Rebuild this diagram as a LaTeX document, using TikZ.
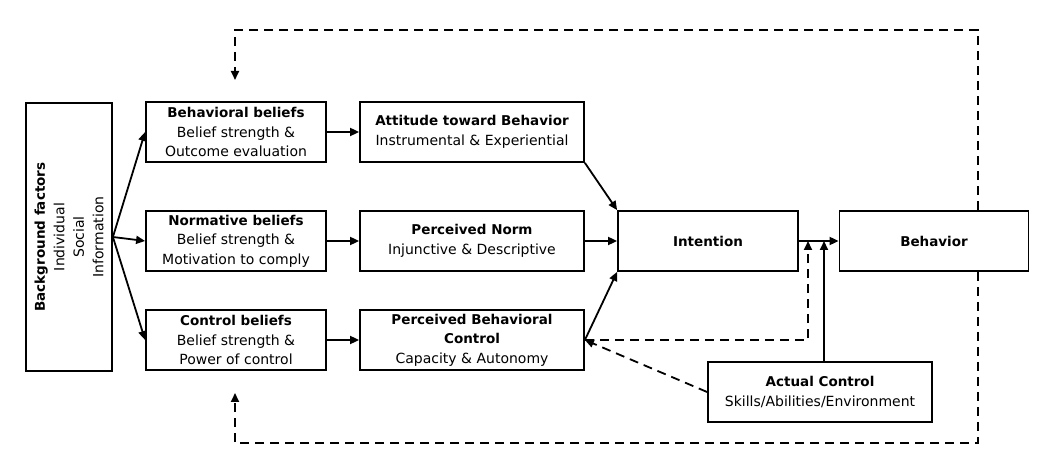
\documentclass[tikz,border=0pt]{standalone}
\usepackage{fontspec}
\setmainfont{DejaVu Sans}
\usepackage{tikz}
\usetikzlibrary{positioning, arrows.meta, calc}

\newcommand{\hd}[1]{{\fontsize{13.5}{19.5}\selectfont\bfseries #1}}

\tikzset{
  box/.style={draw, line width=1.8pt, align=center, inner sep=2pt,
              minimum height=60pt, font=\fontsize{14}{19.5}\selectfont},
  nbox/.style={box, minimum width=180pt},
  wbox/.style={box, minimum width=224pt},
  arr/.style={line width=1.8pt, -{Triangle[length=9pt,width=8pt]}},
  dasharr/.style={arr, dash pattern=on 9pt off 6pt},
}

\begin{document}
\begin{tikzpicture}[x=1pt, y=1pt]
  \useasboundingbox (0,0) rectangle (1043,465);

  % background factors, turned on its side
  \node[box, rotate=90, minimum width=268pt, minimum height=86pt] (bg) at (69,228)
    {\hd{Background factors}\\Individual\\Social\\Information};

  % beliefs
  \node[nbox] (behbel) at (236,333) {\hd{Behavioral beliefs}\\Belief strength \&\\Outcome evaluation};
  \node[nbox] (normbel) at (236,224) {\hd{Normative beliefs}\\Belief strength \&\\Motivation to comply};
  \node[nbox] (ctrlbel) at (236,125) {\hd{Control beliefs}\\Belief strength \&\\Power of control};

  % attitude, norm, control
  \node[wbox] (att) at (472,333) {\hd{Attitude toward Behavior}\\Instrumental \& Experiential};
  \node[wbox] (norm) at (472,224) {\hd{Perceived Norm}\\Injunctive \& Descriptive};
  \node[wbox] (pbc) at (472,125) {\hd{Perceived Behavioral}\\\hd{Control}\\Capacity \& Autonomy};

  \node[nbox] (intent) at (708,224) {\hd{Intention}};
  \node[nbox, minimum width=189pt] (behav) at (934,224) {\hd{Behavior}};
  \node[wbox] (actual) at (820,73) {\hd{Actual Control}\\Skills/Abilities/Environment};

  \coordinate (jdash) at (808,0 |- intent.east);
  \coordinate (jsolid) at (824,0 |- intent.east);
  \coordinate (fbtop) at (235,385);
  \coordinate (fbbot) at (235,72);

  \foreach \b in {behbel, normbel, ctrlbel}
    \draw[arr] (bg.south) -- (\b.west);
  \draw[arr] (behbel) -- (att);
  \draw[arr] (normbel) -- (norm);
  \draw[arr] (ctrlbel) -- (pbc);
  \draw[arr] (att.south east) -- (intent.north west);
  \draw[arr] (norm) -- (intent);
  \draw[arr] (pbc.east) -- (intent.south west);
  \draw[arr] (intent) -- (behav);
  \draw[arr] (actual.north -| jsolid) -- (jsolid);
  \draw[dasharr] (pbc.east) -| (jdash);
  \draw[dasharr] (actual.west) -- (pbc.east);

  % feedback
  \draw[dasharr] (978,0 |- behav.north) -- (978,435) -| (fbtop);
  \draw[dasharr] (978,0 |- behav.south) -- (978,22) -| (fbbot);
\end{tikzpicture}
\end{document}
